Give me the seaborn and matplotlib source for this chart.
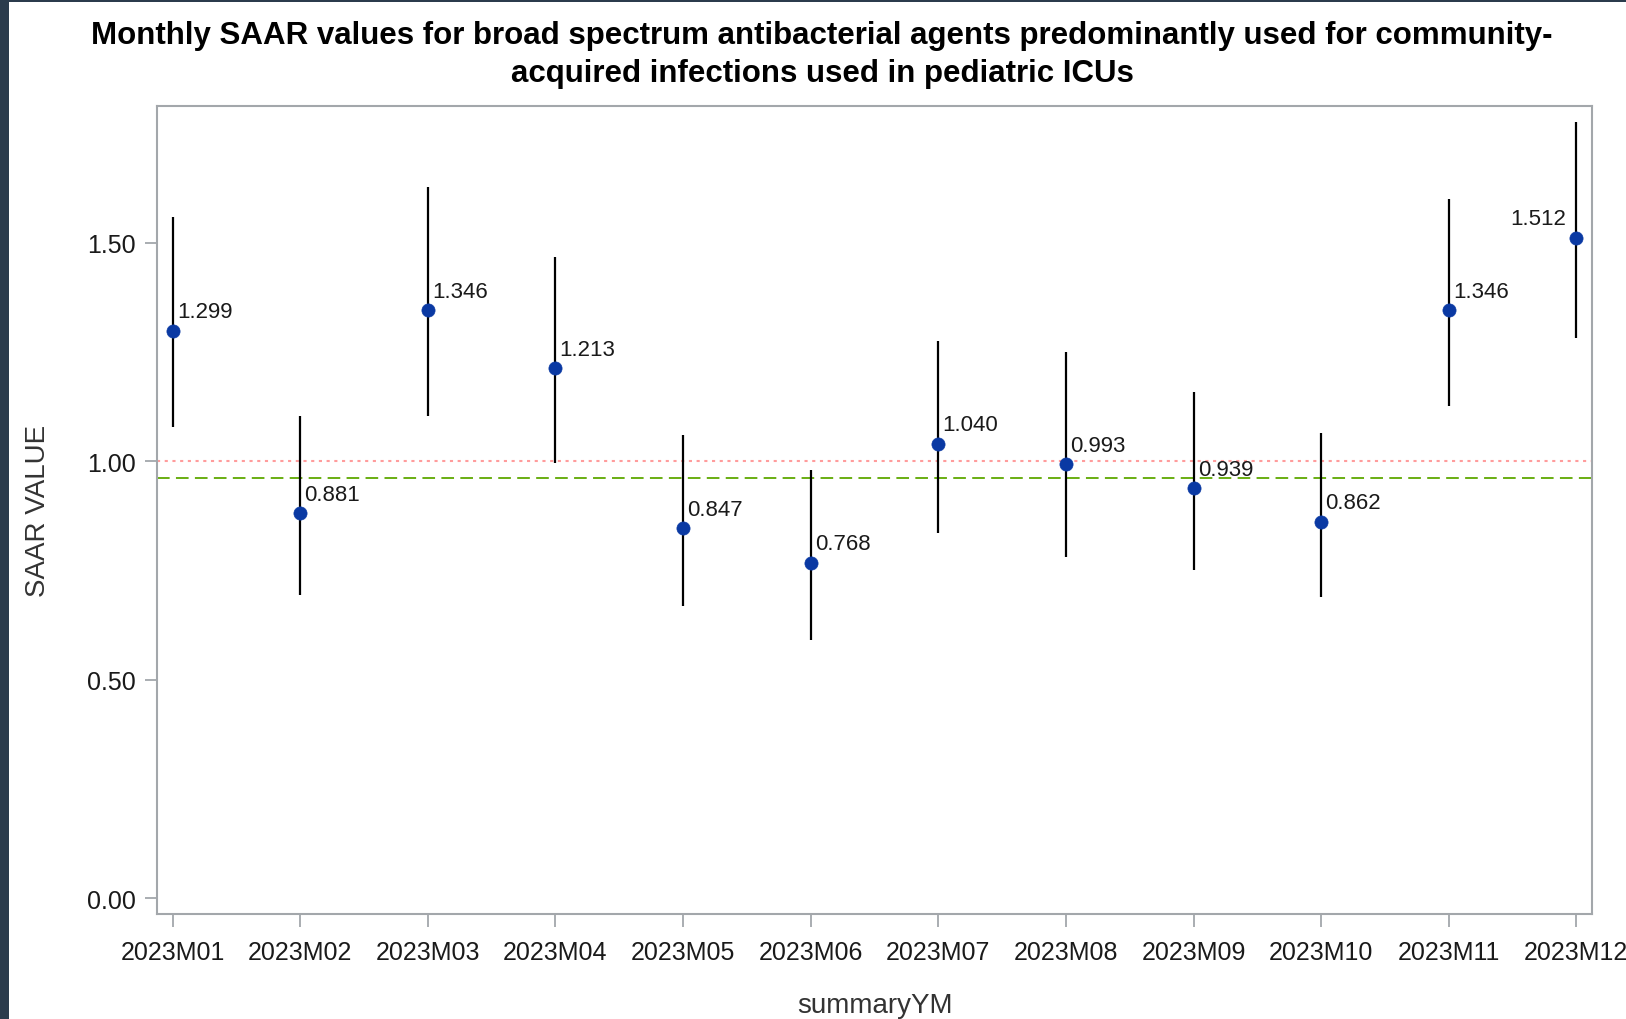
import matplotlib
matplotlib.use("Agg")
import matplotlib.pyplot as plt
import seaborn as sns
import pandas as pd

# Monthly SAAR point estimates with 95% confidence limits
months = ["2023M01", "2023M02", "2023M03", "2023M04", "2023M05", "2023M06",
          "2023M07", "2023M08", "2023M09", "2023M10", "2023M11", "2023M12"]
saar = [1.299, 0.881, 1.346, 1.213, 0.847, 0.768,
        1.040, 0.993, 0.939, 0.862, 1.346, 1.512]
lower_cl = [1.078, 0.694, 1.103, 0.996, 0.668, 0.590,
            0.836, 0.780, 0.752, 0.689, 1.126, 1.281]
upper_cl = [1.558, 1.104, 1.627, 1.467, 1.059, 0.981,
            1.276, 1.249, 1.158, 1.065, 1.600, 1.777]

# Reference lines: SAAR = 1 and the pooled mean
ref_value = 1.0
pooled_value = 0.962

y_ticks = [0.0, 0.5, 1.0, 1.5]

df = pd.DataFrame({"summaryYM": months, "SAAR": saar,
                   "lcl": lower_cl, "ucl": upper_cl})

sns.set_theme(style="white")
plt.rcParams["font.family"] = ["Liberation Sans", "DejaVu Sans"]

fig = plt.figure(figsize=(16.26, 10.2), dpi=100)
fig.patch.set_facecolor("#2b3b4c")
# white panel inside the dark frame (left and top edges only)
fig.patches.append(matplotlib.patches.Rectangle(
    (9 / 1626, 0), 1, 1 - 3 / 1020, transform=fig.transFigure,
    facecolor="white", edgecolor="none", zorder=-1))

ax = fig.add_axes([157 / 1626, 1 - 915 / 1020, (1592 - 157) / 1626, (915 - 107) / 1020])

pos = list(range(len(months)))
ax.vlines(pos, df["lcl"], df["ucl"], color="black", linewidth=1.6, zorder=2)
sns.scatterplot(data=df.assign(xpos=pos), x="xpos", y="SAAR", ax=ax, s=90,
                color="#0a39a3", edgecolor="#0a39a3", linewidth=0.5, zorder=3,
                legend=False)

ax.axhline(ref_value, color="#ff9c9c", linestyle=(0, (1.5, 2.2)), linewidth=1.5, zorder=1)
ax.axhline(pooled_value, color="#5ea800", linestyle=(0, (7, 3.5)), linewidth=1.3, zorder=1)

for i, v in enumerate(saar):
    if i == len(saar) - 1:
        ax.annotate(f"{v:.3f}", (i, v), xytext=(-7, 6), textcoords="offset points",
                    ha="right", va="bottom", fontsize=16, color="#1a1a1a")
    else:
        ax.annotate(f"{v:.3f}", (i, v), xytext=(3, 6), textcoords="offset points",
                    ha="left", va="bottom", fontsize=16, color="#1a1a1a")

ax.set_xlim(-0.123, 11.123)
ax.set_ylim(-0.036, 1.813)
ax.set_xticks(pos)
ax.set_xticklabels(months)
ax.set_yticks(y_ticks)
ax.set_yticklabels([f"{t:.2f}" for t in y_ticks])

for s in ax.spines.values():
    s.set_color("#a3a7ab")
    s.set_linewidth(1.5)
ax.tick_params(axis="both", which="major", direction="out", length=9, width=1.3,
               color="#a3a7ab", labelsize=18, labelcolor="#1a1a1a", pad=6,
               bottom=True, left=True)
ax.tick_params(axis="x", pad=10)

ax.set_xlabel("summaryYM", fontsize=20, color="#333333", labelpad=20)
ax.set_ylabel("SAAR VALUE", fontsize=20, color="#333333", labelpad=26)

fig.text(822 / 1626, 1 - 55 / 1020,
         "Monthly SAAR values for broad spectrum antibacterial agents predominantly used for community-\n"
         "acquired infections used in pediatric ICUs",
         ha="center", va="center", fontsize=22.5, fontweight="bold", color="black",
         linespacing=1.33)

fig.savefig("out.png", dpi=100, facecolor=fig.get_facecolor())
